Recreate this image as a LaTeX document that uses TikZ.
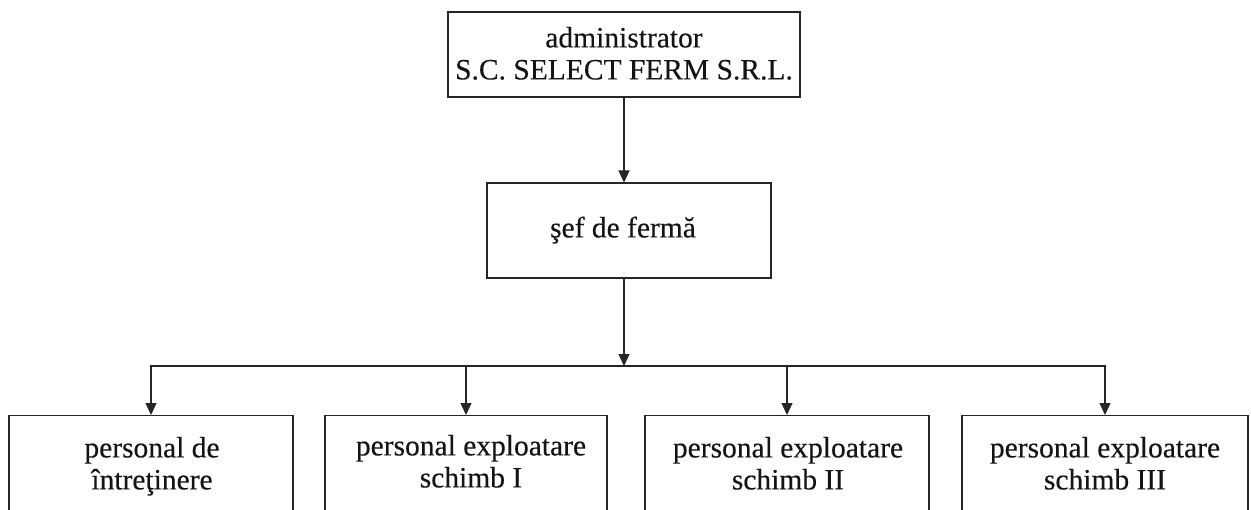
\documentclass[tikz,border=0pt]{standalone}
\usepackage{fontspec}
\setmainfont{Liberation Serif}[FakeBold=0.3]
\usetikzlibrary{arrows.meta}
\tikzset{
  box/.style={draw=black!85, line width=1.1pt, fill=none, inner sep=0pt},
  txt/.style={inner sep=0pt, align=center, font=\fontsize{29.5pt}{32pt}\selectfont, text=black!92},
  arr/.style={draw=black!85, line width=1.1pt, -{Triangle[width=11pt,length=12pt]}},
}
\begin{document}
\begin{tikzpicture}[x=1pt,y=-1pt]
\useasboundingbox (0,0) rectangle (1251,509);
\clip (0,0) rectangle (1251,509);
% boxes
\node[box, minimum width=352pt, minimum height=85pt] (adm) at (624,54.5) {};
\node[txt] (admt) at (624,57) {\strut administrator\\\strut S.C. SELECT FERM S.R.L.};
\node[box, minimum width=284pt, minimum height=95pt] (sef) at (629,230.5) {};
\node[txt] (seft) at (623,231) {\strut şef de fermă};
\node[box, minimum width=284pt, minimum height=110pt, anchor=north] (b1) at (151,415) {};
\node[box, minimum width=282pt, minimum height=110pt, anchor=north] (b2) at (466,415) {};
\node[box, minimum width=284pt, minimum height=110pt, anchor=north] (b3) at (787,415) {};
\node[box, minimum width=286pt, minimum height=110pt, anchor=north] (b4) at (1105,415) {};
\node[txt] (t1) at (152,467) {\strut personal de\\\strut întreţinere};
\node[txt] (t2) at (471,465) {\strut personal exploatare\\\strut schimb I};
\node[txt] (t3) at (788,467) {\strut personal exploatare\\\strut schimb II};
\node[txt] (t4) at (1105,467) {\strut personal exploatare\\\strut schimb III};
% connectors
\coordinate (j) at (624,366);
\draw[arr] (adm.south) -- (adm.south |- sef.north);
\draw[arr] (adm.south |- sef.south) -- (j);
\draw[arr] (j) -| (b1.north);
\draw[arr] (j) -| (b2.north);
\draw[arr] (j) -| (b3.north);
\draw[arr] (j) -| (b4.north);
\end{tikzpicture}
\end{document}
